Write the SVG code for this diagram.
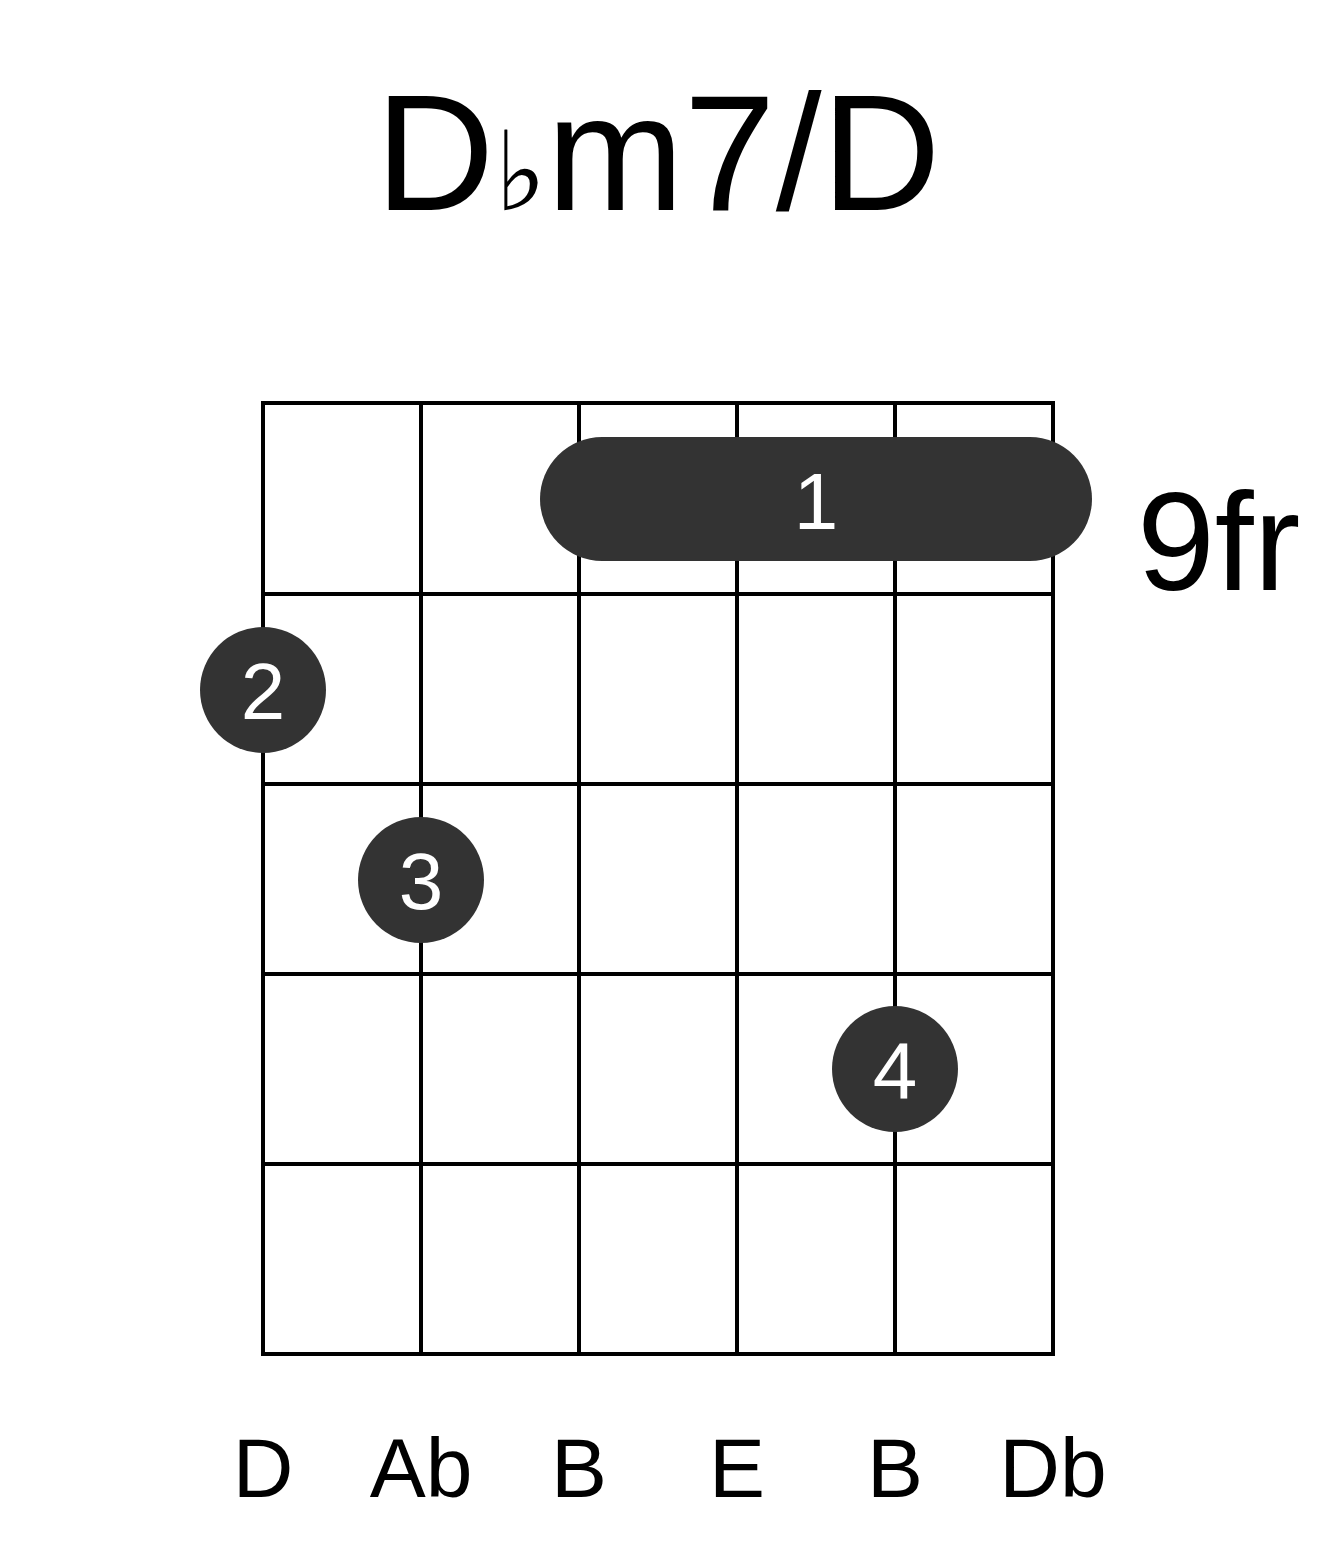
<svg xmlns="http://www.w3.org/2000/svg" width="1317" height="1551" viewBox="0 0 1317 1551">
<style>
.g{stroke:#000;stroke-width:4;fill:none}
.d{fill:#333}
.f{font-family:"Liberation Sans",Arial,sans-serif;fill:#fff;font-size:80px;text-anchor:middle}
.n{font-family:"Liberation Sans",Arial,sans-serif;fill:#000;font-size:84px;text-anchor:middle}
</style>
<rect width="1317" height="1551" fill="#fff"/>
<text x="658" y="210" font-family="'Liberation Sans',Arial,sans-serif" font-size="165" text-anchor="middle">D<tspan font-family="'DejaVu Sans',sans-serif" font-size="110">♭</tspan>m7/D</text>
<g id="grid" class="g">
<rect x="263" y="403" width="790" height="951"/>
<path d="M421 403V1354M579 403V1354M737 403V1354M895 403V1354M263 594H1053M263 784H1053M263 974H1053M263 1164H1053"/>
</g>
<g id="barre"><rect class="d" x="540" y="437" width="552" height="124" rx="62"/><text class="f" x="816" y="529">1</text></g>
<g id="dot2"><circle class="d" cx="263" cy="690" r="63"/><text class="f" x="263" y="719">2</text></g>
<g id="dot3"><circle class="d" cx="421" cy="880" r="63"/><text class="f" x="421" y="909">3</text></g>
<g id="dot4"><circle class="d" cx="895" cy="1069" r="63"/><text class="f" x="895" y="1098">4</text></g>
<text x="1137" y="590" font-family="'Liberation Sans',Arial,sans-serif" font-size="140">9fr</text>
<g id="notes">
<text class="n" x="263" y="1497">D</text><text class="n" x="421" y="1497">Ab</text><text class="n" x="579" y="1497">B</text><text class="n" x="737" y="1497">E</text><text class="n" x="895" y="1497">B</text><text class="n" x="1053" y="1497">Db</text>
</g>
</svg>
